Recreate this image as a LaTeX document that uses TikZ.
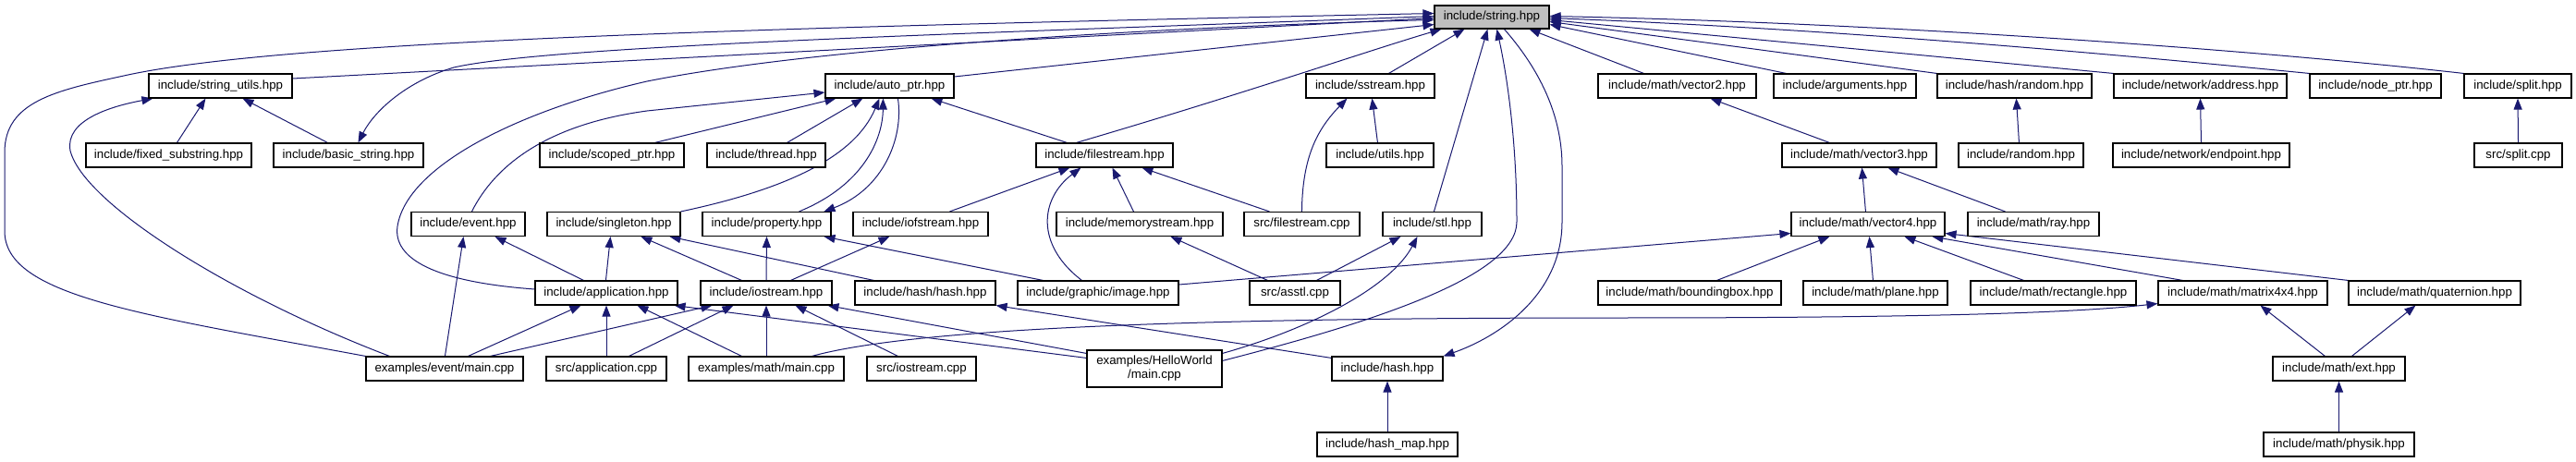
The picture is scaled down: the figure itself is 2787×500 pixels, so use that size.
\documentclass[tikz,border=0pt]{standalone}
\usepackage{fontspec}
\setmainfont{Liberation Sans}
\usetikzlibrary{arrows.meta,backgrounds}
\definecolor{edgec}{HTML}{191970}
\definecolor{rootc}{HTML}{BFBFBF}
\begin{document}
\begin{tikzpicture}[x=1pt,y=-1pt,
  box/.style={draw=black, line width=1.1pt, fill=white, inner sep=0pt, minimum height=26pt, font=\fontsize{13.3}{15}\selectfont, align=center},
  lnk/.style={draw=edgec, line width=1pt, -{Triangle[length=12pt,width=9pt]}}]
\useasboundingbox (0,0) rectangle (2787,500);

% row 0
\node[box, fill=rootc, minimum width=124pt, minimum height=25pt] (string) at (1614,18.5) {include/string.hpp};
% row 1
\node[box, minimum width=155pt] (sutils) at (238.5,93) {include/string\_utils.hpp};
\node[box, minimum width=139pt] (autoptr) at (962.5,93) {include/auto\_ptr.hpp};
\node[box, minimum width=139pt] (sstream) at (1482.5,93) {include/sstream.hpp};
\node[box, minimum width=171pt] (vector2) at (1814.5,93) {include/math/vector2.hpp};
\node[box, minimum width=154pt] (arguments) at (1996,93) {include/arguments.hpp};
\node[box, minimum width=167pt] (hrandom) at (2179.5,93) {include/hash/random.hpp};
\node[box, minimum width=187pt] (address) at (2380.5,93) {include/network/address.hpp};
\node[box, minimum width=142pt] (nodeptr) at (2570,93) {include/node\_ptr.hpp};
\node[box, minimum width=116pt] (split) at (2724,93) {include/split.hpp};
% row 2
\node[box, minimum width=179pt] (fixed) at (182.5,168) {include/fixed\_substring.hpp};
\node[box, minimum width=162pt] (basic) at (377,168) {include/basic\_string.hpp};
\node[box, minimum width=156pt] (scoped) at (662,168) {include/scoped\_ptr.hpp};
\node[box, minimum width=128pt] (thread) at (829,168) {include/thread.hpp};
\node[box, minimum width=148pt] (filestream) at (1195,168) {include/filestream.hpp};
\node[box, minimum width=116pt] (utils) at (1493,168) {include/utils.hpp};
\node[box, minimum width=167pt] (vector3) at (2011.5,168) {include/math/vector3.hpp};
\node[box, minimum width=135pt] (random) at (2186.5,168) {include/random.hpp};
\node[box, minimum width=191pt] (endpoint) at (2381.5,168) {include/network/endpoint.hpp};
\node[box, minimum width=95pt] (splitcpp) at (2724.5,168) {src/split.cpp};
% row 3
\node[box, minimum width=123pt] (event) at (506.5,242.5) {include/event.hpp};
\node[box, minimum width=144pt] (singleton) at (664,242.5) {include/singleton.hpp};
\node[box, minimum width=139pt] (property) at (829.5,242.5) {include/property.hpp};
\node[box, minimum width=146pt] (iofstream) at (996,242.5) {include/iofstream.hpp};
\node[box, minimum width=180pt] (memstream) at (1233,242.5) {include/memorystream.hpp};
\node[box, minimum width=125pt] (srcfs) at (1408.5,242.5) {src/filestream.cpp};
\node[box, minimum width=107pt] (stl) at (1549.5,242.5) {include/stl.hpp};
\node[box, minimum width=166pt] (vector4) at (2021,242.5) {include/math/vector4.hpp};
\node[box, minimum width=142pt] (ray) at (2200,242.5) {include/math/ray.hpp};
% row 4
\node[box, minimum width=154pt] (application) at (656,317) {include/application.hpp};
\node[box, minimum width=142pt] (iostream) at (829,317) {include/iostream.hpp};
\node[box, minimum width=152pt] (hhash) at (1001,317) {include/hash/hash.hpp};
\node[box, minimum width=174pt] (image) at (1188,317) {include/graphic/image.hpp};
\node[box, minimum width=98pt] (asstl) at (1401,317) {src/asstl.cpp};
\node[box, minimum width=198pt] (bbox) at (1828,317) {include/math/boundingbox.hpp};
\node[box, minimum width=156pt] (plane) at (2029,317) {include/math/plane.hpp};
\node[box, minimum width=179pt] (rect) at (2221.5,317) {include/math/rectangle.hpp};
\node[box, minimum width=183pt] (matrix) at (2426.5,317) {include/math/matrix4x4.hpp};
\node[box, minimum width=186pt] (quat) at (2634,317) {include/math/quaternion.hpp};
% row 5
\node[box, minimum width=170pt] (evmain) at (481,399) {examples/event/main.cpp};
\node[box, minimum width=130pt] (appcpp) at (656,399) {src/application.cpp};
\node[box, minimum width=168pt] (mathmain) at (829,399) {examples/math/main.cpp};
\node[box, minimum width=118pt] (iocpp) at (997,399) {src/iostream.cpp};
\node[box, minimum width=146pt, minimum height=40pt] (hello) at (1249,399) {examples/HelloWorld\\/main.cpp};
\node[box, minimum width=120pt] (hash) at (1501,399) {include/hash.hpp};
\node[box, minimum width=143pt] (ext) at (2530.5,399) {include/math/ext.hpp};
% row 6
\node[box, minimum width=152pt] (hashmap) at (1501,481) {include/hash\_map.hpp};
\node[box, minimum width=163pt] (physik) at (2530.5,481) {include/math/physik.hpp};

\begin{pgfonlayer}{background}
\fill[white] (0,0) rectangle (2787,500);
% string_utils group
\draw[lnk] ([xshift=99pt]fixed.north west) -- ([xshift=62pt]sutils.south west);
\draw[lnk] ([xshift=59pt]basic.north west) -- ([xshift=102pt]sutils.south west);
\draw[lnk] ([xshift=26pt]evmain.north west) .. controls (250,320) and (90,220) .. (76,163) .. controls (70,130) and (120,115) .. ([xshift=5pt]sutils.south west);
\draw[lnk] ([yshift=8pt]sutils.east) -- ([yshift=-1pt]string.west);
\draw[lnk] (evmain.north west) .. controls (150,340) and (5,320) .. (5,250) -- (5,165) .. controls (5,110) and (60,98) .. (134,82) .. controls (300,45) and (800,30) .. ([yshift=4pt]string.west);
\draw[lnk] ([yshift=1pt]string.west) .. controls (1100,35) and (600,48) .. (491,73) .. controls (440,88) and (405,120) .. ([xshift=92pt]basic.north west);
\draw[lnk] ([yshift=4pt]application.west) .. controls (470,305) and (425,280) .. (430,245) .. controls (440,180) and (560,120) .. (700,88) .. controls (900,48) and (1300,28) .. ([yshift=-3pt]string.west);
% auto_ptr group
\draw[lnk] ([xshift=66pt]event.north west) .. controls (535,180) and (590,135) .. (700,120) -- ([yshift=-7pt]autoptr.west);
\draw[lnk] ([xshift=125pt]scoped.north west) -- ([xshift=12pt]autoptr.south west);
\draw[lnk] ([xshift=87pt]thread.north west) -- ([xshift=41pt]autoptr.south west);
\draw[lnk] (singleton.north east) .. controls (850,205) and (925,170) .. ([xshift=59pt]autoptr.south west);
\draw[lnk] ([xshift=105pt]property.north west) .. controls (935,200) and (955,150) .. ([xshift=63pt]autoptr.south west);
\draw[lnk] ([xshift=79pt]autoptr.south west) .. controls (978,150) and (955,205) .. ([xshift=132pt]property.north west);
\draw[lnk] ([xshift=34pt]filestream.north west) -- ([xshift=115pt]autoptr.south west);
\draw[lnk] ([yshift=10pt]autoptr.east) -- ([yshift=-8pt]string.west);
% filestream / sstream group
\draw[lnk] ([xshift=44pt]filestream.north west) .. controls (1350,100) and (1480,55) .. ([xshift=8pt]string.south west);
\draw[lnk] ([xshift=90pt]sstream.north west) -- ([xshift=33pt]string.south west);
\draw[lnk] ([xshift=56pt]utils.north west) -- ([xshift=72pt]sstream.south west);
\draw[lnk] ([xshift=63pt]srcfs.north west) .. controls (1409,170) and (1425,140) .. ([xshift=45pt]sstream.south west);
\draw[lnk] ([xshift=28pt]srcfs.north west) -- ([xshift=115pt]filestream.south west);
\draw[lnk] ([xshift=84pt]memstream.north west) -- ([xshift=83pt]filestream.south west);
\draw[lnk] ([xshift=105pt]iofstream.north west) -- ([xshift=37pt]filestream.south west);
\draw[lnk] ([xshift=70pt]image.north west) .. controls (1120,265) and (1125,215) .. ([xshift=49pt]filestream.south west);
\draw[lnk] ([xshift=28pt]image.north west) -- ([xshift=132pt]property.south west);
\draw[lnk] ([yshift=9pt]image.east) -- ([yshift=-10pt]vector4.west);
% iostream / application group
\draw[lnk] (iostream.north) -- (property.south);
\draw[lnk] ([xshift=98pt]iostream.north west) -- ([xshift=40pt]iofstream.south west);
\draw[lnk] ([xshift=45pt]iostream.north west) -- ([xshift=102pt]singleton.south west);
\draw[lnk] ([xshift=21pt]hhash.north west) -- ([xshift=133pt]singleton.south west);
\draw[lnk] ([xshift=77pt]application.north west) -- ([xshift=69pt]singleton.south west);
\draw[lnk] ([xshift=53pt]application.north west) -- ([xshift=91pt]event.south west);
\draw[lnk] ([xshift=86pt]evmain.north west) -- ([xshift=57pt]event.south west);
\draw[lnk] ([xshift=111pt]evmain.north west) -- ([xshift=50pt]application.south west);
\draw[lnk] ([xshift=135pt]evmain.north west) -- ([xshift=13pt]iostream.south west);
\draw[lnk] (appcpp.north) -- (application.south);
\draw[lnk] ([xshift=90pt]appcpp.north west) -- ([xshift=36pt]iostream.south west);
\draw[lnk] ([xshift=58pt]mathmain.north west) -- ([xshift=111pt]application.south west);
\draw[lnk] (mathmain.north) -- (iostream.south);
\draw[lnk] ([xshift=134pt]mathmain.north west) .. controls (1000,352) and (1350,344) .. (1750,344) .. controls (2100,344) and (2250,338) .. ([yshift=2pt]matrix.south west);
\draw[lnk] ([xshift=34pt]iocpp.north west) -- ([xshift=103pt]iostream.south west);
\draw[lnk] ([yshift=-4pt]hello.north west) -- ([xshift=138pt]iostream.south west);
\draw[lnk] ([yshift=-9pt]hello.north west) -- ([xshift=-4pt]application.south east);
\draw[lnk] ([yshift=-4pt]hello.north east) .. controls (1420,355) and (1505,310) .. ([xshift=38pt]stl.south west);
\draw[lnk] ([yshift=-12pt]hello.north east) .. controls (1480,350) and (1641,300) .. (1641,240) .. controls (1641,150) and (1630,80) .. ([xshift=68pt]string.south west);
% stl / hash group
\draw[lnk] ([xshift=56pt]stl.north west) -- ([xshift=58pt]string.south west);
\draw[lnk] ([xshift=73pt]asstl.north west) -- ([xshift=20pt]stl.south west);
\draw[lnk] ([xshift=20pt]asstl.north west) -- ([xshift=124pt]memstream.south west);
\draw[lnk] ([yshift=-2pt]hash.north west) -- (hhash.south east);
\draw[lnk] ([xshift=76pt]string.south west) .. controls (1670,80) and (1690,130) .. (1690,180) -- (1690,240) .. controls (1690,320) and (1620,365) .. (hash.north east);
\draw[lnk] (hashmap.north) -- (hash.south);
% math group
\draw[lnk] ([xshift=50pt]vector2.north west) -- ([xshift=103pt]string.south west);
\draw[lnk] ([xshift=52pt]vector3.north west) -- ([xshift=122pt]vector2.south west);
\draw[lnk] ([xshift=81pt]vector4.north west) -- ([xshift=87pt]vector3.south west);
\draw[lnk] ([xshift=41pt]ray.north west) -- ([xshift=115pt]vector3.south west);
\draw[lnk] ([xshift=129pt]bbox.north west) -- ([xshift=42pt]vector4.south west);
\draw[lnk] ([xshift=76pt]plane.north west) -- ([xshift=85pt]vector4.south west);
\draw[lnk] ([xshift=58pt]rect.north west) -- ([xshift=123pt]vector4.south west);
\draw[lnk] ([xshift=27pt]matrix.north west) -- ([xshift=153pt]vector4.south west);
\draw[lnk] (quat.north west) -- ([yshift=-10pt]vector4.east);
\draw[lnk] ([xshift=57pt]ext.north west) -- ([xshift=111pt]matrix.south west);
\draw[lnk] ([xshift=86pt]ext.north west) -- ([xshift=73pt]quat.south west);
\draw[lnk] (physik.north) -- (ext.south);
% right side
\draw[lnk] ([xshift=14pt]arguments.north west) -- ([yshift=-8pt]string.east);
\draw[lnk] (hrandom.north west) -- ([yshift=-5pt]string.east);
\draw[lnk] (address.north west) -- ([yshift=-3pt]string.east);
\draw[lnk] (nodeptr.north west) .. controls (2300,60) and (2000,32) .. ([yshift=-1pt]string.east);
\draw[lnk] (split.north west) .. controls (2450,55) and (2050,25) .. ([yshift=1pt]string.east);
\draw[lnk] ([xshift=66pt]random.north west) -- ([xshift=86pt]hrandom.south west);
\draw[lnk] (endpoint.north) -- (address.south);
\draw[lnk] (splitcpp.north) -- (split.south);
\end{pgfonlayer}
\end{tikzpicture}
\end{document}
